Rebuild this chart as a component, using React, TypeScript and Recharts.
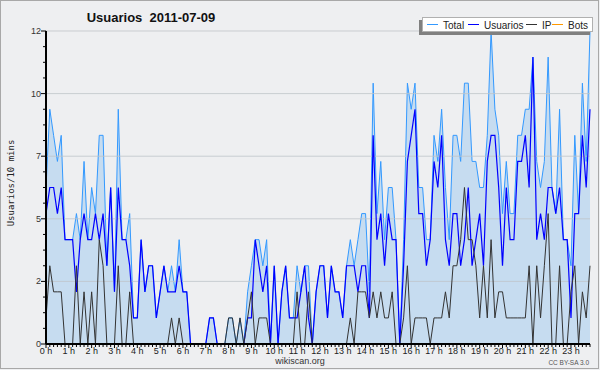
import React from 'react';
import { ComposedChart, Area, Line, XAxis, YAxis, ReferenceLine, CartesianGrid } from 'recharts';

// 10-minute slots of 2011-07-09 (0..143)
const total = [
  6, 9, 8, 7, 8, 4, 4, 4, 5, 4, 7, 4, 6, 5, 8, 8, 3, 6, 2, 9, 4, 4, 5, 1,
  1, 4, 2, 3, 3, 1, 2, 3, 2, 3, 2, 4, 2, 2, 0, 0, 0, 0, 0, 1, 1, 0, 0, 0,
  1, 1, 0, 1, 0, 2, 3, 4, 4, 3, 4, 0, 3, 0, 2, 3, 1, 1, 3, 2, 3, 3, 0, 2,
  3, 3, 1, 3, 2, 2, 1, 3, 4, 3, 4, 5, 5, 2, 10, 5, 7, 4, 6, 6, 4, 0, 4, 10,
  9, 10, 6, 6, 4, 4, 8, 7, 9, 6, 4, 8, 8, 7, 10, 10, 7, 7, 6, 6, 8, 12, 9, 8,
  5, 7, 5, 5, 8, 8, 9, 9, 11, 7, 6, 7, 11, 6, 5, 9, 4, 4, 3, 8, 5, 10, 7, 12,
];
const usuarios = [
  5, 6, 6, 5, 6, 4, 4, 4, 2, 4, 5, 4, 4, 5, 4, 5, 3, 6, 2, 6, 4, 4, 3, 1,
  1, 4, 2, 3, 3, 1, 2, 3, 2, 2, 2, 3, 2, 2, 0, 0, 0, 0, 0, 1, 1, 0, 0, 0,
  0, 0, 0, 0, 0, 1, 1, 4, 3, 2, 3, 0, 3, 0, 2, 3, 1, 1, 1, 2, 3, 1, 0, 2,
  3, 3, 1, 3, 2, 2, 1, 3, 3, 3, 2, 3, 3, 1, 8, 4, 5, 3, 5, 4, 4, 0, 3, 7,
  8, 9, 5, 5, 3, 4, 7, 6, 8, 4, 3, 5, 5, 3, 4, 6, 3, 4, 5, 3, 7, 8, 8, 6,
  3, 6, 4, 4, 7, 7, 8, 6, 11, 4, 5, 4, 6, 6, 5, 6, 4, 4, 1, 5, 5, 8, 6, 9,
];
const ip = [
  1, 3, 2, 2, 2, 0, 0, 0, 3, 0, 2, 0, 2, 0, 4, 3, 0, 0, 0, 3, 0, 0, 2, 0,
  0, 0, 0, 0, 0, 0, 0, 0, 0, 1, 0, 1, 0, 0, 0, 0, 0, 0, 0, 0, 0, 0, 0, 0,
  1, 1, 0, 1, 0, 1, 2, 0, 1, 1, 1, 0, 0, 0, 0, 0, 0, 0, 2, 0, 0, 2, 0, 0,
  0, 0, 0, 0, 0, 0, 0, 0, 1, 0, 2, 2, 2, 1, 2, 1, 2, 1, 1, 2, 0, 0, 1, 3,
  0, 1, 1, 1, 1, 0, 1, 1, 1, 2, 1, 3, 3, 4, 6, 4, 4, 3, 1, 3, 1, 4, 1, 2,
  2, 1, 1, 1, 1, 1, 1, 3, 0, 3, 1, 3, 5, 0, 0, 3, 0, 0, 2, 3, 0, 2, 1, 3,
];
const bots = [
  0, 0, 0, 0, 0, 0, 0, 0, 0, 0, 0, 0, 0, 0, 0, 0, 0, 0, 0, 0, 0, 0, 0, 0,
  0, 0, 0, 0, 0, 0, 0, 0, 0, 0, 0, 0, 0, 0, 0, 0, 0, 0, 0, 0, 0, 0, 0, 0,
  0, 0, 0, 0, 0, 0, 0, 0, 0, 0, 0, 0, 0, 0, 0, 0, 0, 0, 0, 0, 0, 0, 0, 0,
  0, 0, 0, 0, 0, 0, 0, 0, 0, 0, 0, 0, 0, 0, 0, 0, 0, 0, 0, 0, 0, 0, 0, 0,
  0, 0, 0, 0, 0, 0, 0, 0, 0, 0, 0, 0, 0, 0, 0, 0, 0, 0, 0, 0, 0, 0, 0, 0,
  0, 0, 0, 0, 0, 0, 0, 0, 0, 0, 0, 0, 0, 0, 0, 0, 0, 0, 0, 0, 0, 0, 0, 0,
];
const hourLabels = [
  '0 h', '1 h', '2 h', '3 h', '4 h', '5 h', '6 h', '7 h', '8 h', '9 h', '10 h', '11 h',
  '12 h', '13 h', '14 h', '15 h', '16 h', '17 h', '18 h', '19 h', '20 h', '21 h', '22 h', '23 h',
];
const yMajorTicks = [0, 2.4, 4.8, 7.2, 9.6, 12];
const gridValues = [2.4, 4.8, 7.2, 9.6, 12];

const data = total.map((t, i) => ({ slot: i, total: t, usuarios: usuarios[i], ip: ip[i], bots: bots[i] }));
const slotTicks = data.map((d) => d.slot);
const yTicks: number[] = [];
for (let k = 0; k <= 20; k++) yTicks.push(Math.round(k * 0.6 * 100) / 100);

const BG = '#eeeff1';
const FONT = '"Liberation Sans", Arial, sans-serif';

const XTick = (props: any) => {
  const { x, y, payload } = props;
  const v = payload.value as number;
  const isHour = v % 6 === 0;
  return (
    <g>
      <line x1={x} x2={x} y1={y} y2={y + (isHour ? 4 : 3)} stroke="#000" strokeWidth={1} />
      {isHour && (
        <text x={x} y={y + 10} textAnchor="middle" fontSize={9} fontFamily={FONT} fill="#222">
          {hourLabels[v / 6]}
        </text>
      )}
    </g>
  );
};

const YTick = (props: any) => {
  const { x, y, payload } = props;
  const v = payload.value as number;
  const isMajor = yMajorTicks.some((m) => Math.abs(m - v) < 1e-6);
  return (
    <g>
      <line x1={x - (isMajor ? 5 : 3)} x2={x} y1={y} y2={y} stroke="#000" strokeWidth={1} />
      {isMajor && (
        <text x={x - 5} y={y + 3} textAnchor="end" fontSize={9} fontFamily={FONT} fill="#333">
          {Math.round(v)}
        </text>
      )}
    </g>
  );
};

const legendItems = [
  { label: 'Total', color: '#3399ff', lx: 427, tx: 443 },
  { label: 'Usuarios', color: '#0000ff', lx: 468, tx: 484 },
  { label: 'IP', color: '#333333', lx: 526, tx: 542 },
  { label: 'Bots', color: '#ff9900', lx: 552, tx: 568 },
];

export default function App() {
  return (
    <div style={{ position: 'absolute', left: 0, top: 0, width: 600, height: 370, background: BG }}>
      <ComposedChart width={600} height={370} data={data} margin={{ top: 31, right: 10, bottom: 0, left: 0 }}>
        <CartesianGrid horizontal={false} vertical={false} fill={BG} stroke="none" />
        <XAxis
          dataKey="slot"
          type="number"
          domain={[0, 143]}
          ticks={slotTicks}
          interval={0}
          height={26}
          tickSize={0}
          tickMargin={0}
          tickLine={false}
          axisLine={{ stroke: '#000', strokeWidth: 2 }}
          tick={(p: any) => <XTick {...p} />}
        />
        <YAxis
          type="number"
          domain={[0, 12]}
          ticks={yTicks}
          interval={0}
          width={46}
          tickSize={0}
          tickMargin={0}
          tickLine={false}
          axisLine={{ stroke: '#000', strokeWidth: 2 }}
          tick={(p: any) => <YTick {...p} />}
        />
        <Area
          dataKey="total"
          type="linear"
          stroke="#3399ff"
          strokeWidth={1}
          fill="#c6dcf0"
          fillOpacity={1}
          dot={false}
          activeDot={false}
          isAnimationActive={false}
        />
        {gridValues.map((v) => (
          <ReferenceLine key={v} y={v} stroke="#bfc4c9" strokeWidth={1} strokeOpacity={0.8} />
        ))}
        <Line dataKey="bots" type="linear" stroke="#ff9900" strokeWidth={1} dot={false} activeDot={false} isAnimationActive={false} />
        <Line dataKey="usuarios" type="linear" stroke="#0000ff" strokeWidth={1.2} dot={false} activeDot={false} isAnimationActive={false} />
        <Line dataKey="ip" type="linear" stroke="#333333" strokeWidth={1} dot={false} activeDot={false} isAnimationActive={false} />
      </ComposedChart>
      <svg width={600} height={370} style={{ position: 'absolute', left: 0, top: 0, pointerEvents: 'none' }}>
        <rect x={0.5} y={0.5} width={598} height={368} fill="none" stroke="#a8a8a8" strokeWidth={1} />
        <text x={151} y={22} textAnchor="middle" fontSize={13} fontWeight="bold" fontFamily={FONT} fill="#111" style={{ whiteSpace: 'pre' }}>
          {'Usuarios  2011-07-09'}
        </text>
        <rect x={419} y={20} width={171} height={15} fill="#808080" />
        <rect x={422.5} y={17.5} width={170} height={14} fill="#ffffff" stroke="#b0b0b0" />
        {legendItems.map((it) => (
          <g key={it.label}>
            <line x1={it.lx} x2={it.lx + 11} y1={24.5} y2={24.5} stroke={it.color} strokeWidth={1} />
            <text x={it.tx} y={28.5} fontSize={10} fontFamily={FONT} fill="#222">
              {it.label}
            </text>
          </g>
        ))}
        <text transform="translate(14,183) rotate(-90)" textAnchor="middle" fontSize={9} fontFamily='"DejaVu Sans Mono", monospace' fill="#222">
          Usuarios/10 mins
        </text>
        <text x={300} y={364} textAnchor="middle" fontSize={9} fontFamily={FONT} fill="#333">
          wikiscan.org
        </text>
        <text x={589} y={365} textAnchor="end" fontSize={6.5} fontFamily={FONT} fill="#555">
          CC BY-SA 3.0
        </text>
      </svg>
    </div>
  );
}
